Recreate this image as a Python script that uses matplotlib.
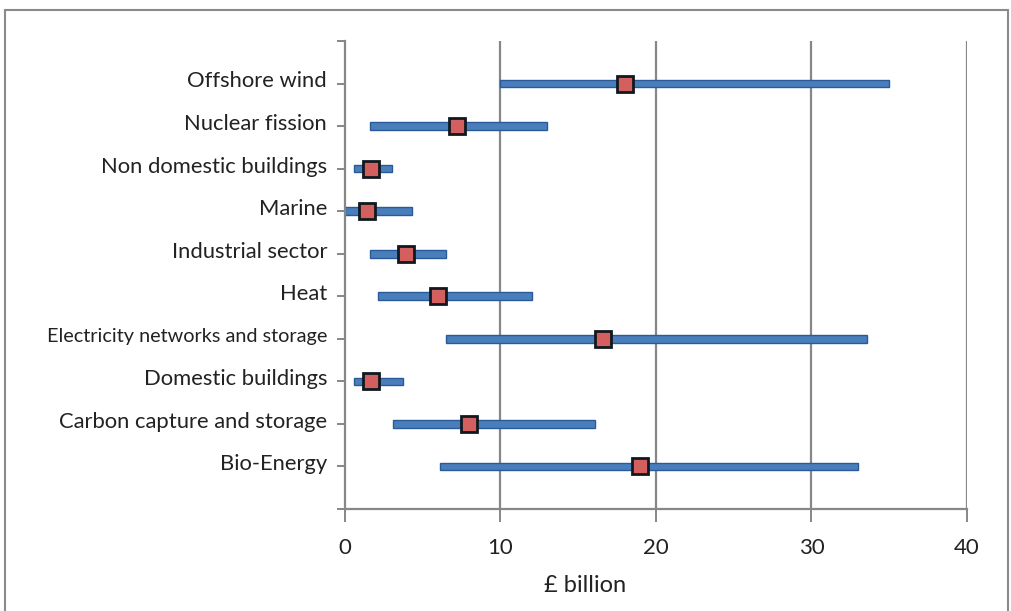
import matplotlib
matplotlib.use("Agg")
import matplotlib.pyplot as plt
from matplotlib.patches import Rectangle

categories = ["Offshore wind", "Nuclear fission", "Non domestic buildings", "Marine",
              "Industrial sector", "Heat", "Electricity networks and storage",
              "Domestic buildings", "Carbon capture and storage", "Bio-Energy"]
low = [10.0, 1.6, 0.6, 0.0, 1.6, 2.1, 6.5, 0.6, 3.1, 6.1]
high = [35.0, 13.0, 3.0, 4.3, 6.5, 12.0, 33.6, 3.7, 16.1, 33.0]
central = [18.0, 7.2, 1.7, 1.4, 3.9, 6.0, 16.6, 1.7, 8.0, 19.0]
x_ticks = [0, 10, 20, 30, 40]

plt.rcParams['font.family'] = ['Lato', 'DejaVu Sans']

fig = plt.figure(figsize=(10.12, 6.11), dpi=100)
ax = fig.add_axes([345/1012, 1-509/611, (967-345)/1012, (509-41)/611])

n = len(categories)
ypos = [n - i for i in range(n)]
widths = [h - l for h, l in zip(high, low)]

grey = "#878787"
for xv in x_ticks[1:]:
    ax.axvline(xv, color=grey, lw=1.6, zorder=1)

ax.barh(ypos, widths, left=low, height=0.18, color="#4a7ebb", edgecolor="#2a5a9a",
        linewidth=1.0, zorder=2)
ax.plot(central, ypos, linestyle="none", marker="s", markersize=11,
        markerfacecolor="#d45f5f", markeredgecolor="#101820", markeredgewidth=2.0, zorder=3)

ax.set_xlim(0, 40)
ax.set_ylim(0, 11)
ax.set_xticks(x_ticks)
ax.set_xticklabels([str(v) for v in x_ticks], fontsize=16, color="#222222")
ax.set_yticks(range(0, 12))
ax.set_yticklabels([""] * 12)
for spine in ["top", "right"]:
    ax.spines[spine].set_visible(False)
for spine in ["left", "bottom"]:
    ax.spines[spine].set_color(grey)
    ax.spines[spine].set_linewidth(1.6)
ax.tick_params(axis="x", direction="out", length=9, width=1.4, color=grey, pad=12)
ax.tick_params(axis="y", direction="out", length=6, width=1.4, color=grey)

for cat, y in zip(categories, ypos):
    fs = 14.3 if cat.startswith("Electricity") else 15.8
    ax.text(-1.15, y + 0.05, cat, ha="right", va="center", fontsize=fs, color="#222222")

fig.text(585/1012, 1-585/611, "£ billion", ha="center", va="center", fontsize=17, color="#222222")

fig.patches.append(Rectangle((5/1012, -0.1), 1003/1012, 1.1 - 10/611, transform=fig.transFigure,
                             fill=False, edgecolor="#8a8a8a", linewidth=1.5))

fig.savefig("out.png", dpi=100)
